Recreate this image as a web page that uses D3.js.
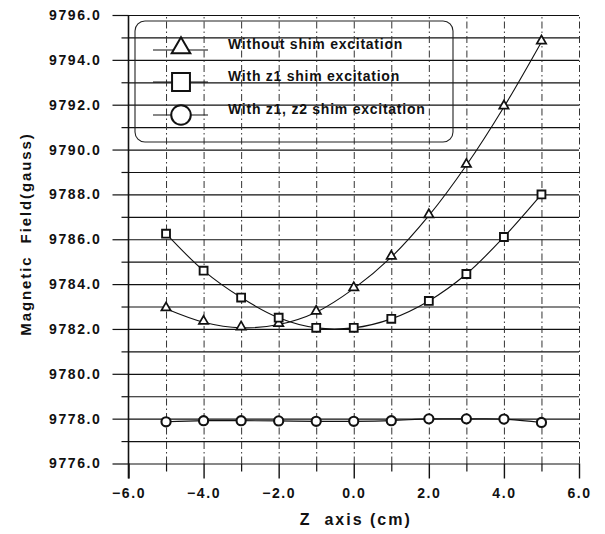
<!DOCTYPE html>
<html>
<head>
<meta charset="utf-8">
<script src="https://cdn.jsdelivr.net/npm/d3@7"></script>
<style>
  body { margin: 0; background: #fff; }
  svg { display: block; font-family: Arial, "Liberation Sans", sans-serif; font-weight: bold; }
</style>
</head>
<body>
<svg id="chart" width="605" height="534"></svg>
<script>
// z position along the magnet axis (cm)
const zPos = [-5, -4, -3, -2, -1, 0, 1, 2, 3, 4, 5];
// field readings (gauss)
const noShim = [9782.9, 9782.3, 9782.05, 9782.2, 9782.75, 9783.8, 9785.2, 9787.05, 9789.3, 9791.9, 9794.8];
const z1Shim = [9786.25, 9784.6, 9783.4, 9782.5, 9782.05, 9782.05, 9782.45, 9783.25, 9784.45, 9786.1, 9788.0];
const z1z2Shim = [9777.86, 9777.91, 9777.91, 9777.9, 9777.88, 9777.88, 9777.91, 9777.99, 9777.99, 9777.98, 9777.83];

const seriesNames = ["Without shim excitation", "With z1 shim excitation", "With z1, z2 shim excitation"];
const xMajor = [-6, -4, -2, 0, 2, 4, 6];
const xMinor = [-5, -3, -1, 1, 3, 5];
const yMajor = [9776, 9778, 9780, 9782, 9784, 9786, 9788, 9790, 9792, 9794, 9796];
const yMinor = [9777, 9779, 9781, 9783, 9785, 9787, 9789, 9791, 9793, 9795];

const margin = {left: 128.5, right: 26, top: 15, bottom: 70.5};
const W = 605, H = 534;
const plotW = W - margin.left - margin.right;
const plotH = H - margin.top - margin.bottom;

const svg = d3.select("#chart");
const g = svg.append("g").attr("transform", `translate(${margin.left},${margin.top})`);

const x = d3.scaleLinear().domain([-6, 6]).range([0, plotW]);
const y = d3.scaleLinear().domain([9776, 9796]).range([plotH, 0]);

// horizontal grid, one line per gauss
g.append("g")
    .call(d3.axisLeft(y).tickValues(yMajor.concat(yMinor)).tickSize(-plotW).tickFormat(""))
    .call(a => a.select(".domain").remove())
    .selectAll("line").attr("stroke", "#111").attr("stroke-width", 1.2);

// vertical dash-dot grid
g.append("g")
    .call(d3.axisBottom(x).tickValues(d3.range(-5, 7)).tickSize(-plotH).tickFormat(""))
    .attr("transform", `translate(0,${plotH})`)
    .call(a => a.select(".domain").remove())
    .selectAll("line")
    .attr("stroke", "#333").attr("stroke-width", 1).attr("stroke-dasharray", "7,3,1.5,3");

// y ticks + labels
const yAx = g.append("g")
    .call(d3.axisLeft(y).tickValues(yMajor).tickSize(16).tickPadding(11).tickFormat(d3.format(".1f")))
    .call(a => a.select(".domain").remove());
yAx.selectAll("line").attr("stroke", "#111").attr("stroke-width", 1.2);
yAx.selectAll("text").attr("font-size", 14).attr("fill", "#111").style("letter-spacing", "1.6px");

g.append("g")
    .call(d3.axisLeft(y).tickValues(yMinor).tickSize(7).tickFormat(""))
    .call(a => a.select(".domain").remove())
    .selectAll("line").attr("stroke", "#111").attr("stroke-width", 1.2);

// x ticks + labels
const xAx = g.append("g")
    .attr("transform", `translate(0,${plotH})`)
    .call(d3.axisBottom(x).tickValues(xMajor).tickSize(15).tickPadding(9.5).tickFormat(d3.format(".1f")))
    .call(a => a.select(".domain").remove());
xAx.selectAll("line").attr("stroke", "#111").attr("stroke-width", 1.4);
xAx.selectAll("text").attr("font-size", 14).attr("fill", "#111").style("letter-spacing", "1.6px");

g.append("g")
    .attr("transform", `translate(0,${plotH})`)
    .call(d3.axisBottom(x).tickValues(xMinor).tickSize(8).tickFormat(""))
    .call(a => a.select(".domain").remove())
    .selectAll("line").attr("stroke", "#111").attr("stroke-width", 1.2);

// left axis line
g.append("line")
    .attr("x1", 0).attr("x2", 0).attr("y1", 0).attr("y2", plotH + 15)
    .attr("stroke", "#111").attr("stroke-width", 1.6);

// axis titles
svg.append("text")
    .attr("transform", `translate(31,${margin.top + 219}) rotate(-90)`)
    .attr("text-anchor", "middle")
    .attr("font-size", 15).attr("fill", "#111")
    .style("letter-spacing", "1.9px")
    .style("white-space", "pre")
    .text("Magnetic  Field(gauss)");

svg.append("text")
    .attr("x", margin.left + plotW / 2 + 2).attr("y", 525)
    .attr("text-anchor", "middle")
    .attr("font-size", 16).attr("fill", "#111")
    .style("letter-spacing", "2px")
    .style("white-space", "pre")
    .text("Z  axis (cm)");

// series
const series = [noShim, z1Shim, z1z2Shim].map((vals, i) =>
    ({name: seriesNames[i], pts: zPos.map((z, j) => [z, vals[j]])}));

const line = d3.line().x(d => x(d[0])).y(d => y(d[1])).curve(d3.curveCatmullRom.alpha(0.5));

g.selectAll(".curve")
    .data(series)
    .join("path")
    .attr("class", "curve")
    .attr("d", d => line(d.pts))
    .attr("fill", "none").attr("stroke", "#111").attr("stroke-width", 1.1);

const symTypes = [d3.symbolTriangle, d3.symbolSquare, d3.symbolCircle];
const symSizes = [38, 62, 66];
const symWidths = [1.7, 1.9, 2.1];

series.forEach((s, i) => {
    g.selectAll(".m" + i)
        .data(s.pts)
        .join("path")
        .attr("class", "m" + i)
        .attr("transform", d => `translate(${x(d[0])},${y(d[1]) + (i === 0 ? -1 : 0)})`)
        .attr("d", d3.symbol(symTypes[i], symSizes[i]))
        .attr("fill", "#fff").attr("stroke", "#111").attr("stroke-width", symWidths[i]);
});

// legend
const leg = svg.append("g");
leg.append("rect")
    .attr("x", 135).attr("y", 21).attr("width", 318).attr("height", 121)
    .attr("rx", 10).attr("ry", 10)
    .attr("fill", "none").attr("stroke", "#222").attr("stroke-width", 1.1);

const legRows = [50, 82, 115];
const legSizes = [150, 320, 300];
seriesNames.forEach((name, i) => {
    const ly = legRows[i];
    leg.append("line")
        .attr("x1", 153).attr("x2", 208).attr("y1", ly).attr("y2", ly)
        .attr("stroke", "#111").attr("stroke-width", 1.1);
    leg.append("path")
        .attr("transform", `translate(181,${ly - (i === 0 ? 2 : 0)})`)
        .attr("d", d3.symbol(symTypes[i], legSizes[i]))
        .attr("fill", "#fff").attr("stroke", "#111").attr("stroke-width", 2);
    leg.append("text")
        .attr("x", 228).attr("y", ly - 1.5)
        .attr("font-size", 14).attr("fill", "#111")
        .style("letter-spacing", "0.75px")
        .text(name);
});
</script>
</body>
</html>
